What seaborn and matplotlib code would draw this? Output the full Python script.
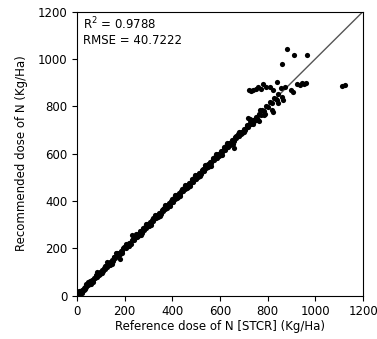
import numpy as np
import pandas as pd
import matplotlib
matplotlib.use("Agg")
import matplotlib.pyplot as plt
import seaborn as sns

# points close to the 1:1 line (reference dose, recommended dose)
x_main = [3, 6, 9, 12, 15, 18, 21, 25, 28, 32,
          35, 39, 42, 46, 50, 53, 57, 61, 64, 68,
          72, 76, 80, 84, 88, 92, 96, 100, 104, 108,
          112, 117, 121, 125, 130, 134, 139, 143, 148, 152,
          157, 161, 165, 170, 175, 179, 182, 186, 190, 195,
          200, 204, 209, 214, 219, 224, 229, 232, 236, 241,
          246, 251, 256, 261, 266, 271, 276, 281, 286, 291,
          296, 301, 306, 311, 316, 321, 326, 331, 336, 341,
          346, 351, 356, 361, 366, 371, 376, 381, 386, 391,
          396, 402, 407, 412, 417, 423, 428, 433, 438, 444,
          449, 454, 460, 465, 470, 476, 481, 487, 492, 498,
          503, 509, 514, 520, 525, 531, 536, 542, 548, 553,
          559, 564, 570, 576, 581, 587, 593, 598, 604, 610,
          615, 621, 627, 633, 639, 645, 651, 657, 663, 669,
          675, 681, 687, 693, 699, 705, 712, 718, 724, 731,
          737, 744, 750, 757, 763, 770, 778, 785, 793, 801,
          810, 818, 827, 836, 845]
y_main = [5, 4, 12, 10, 17, 16, 24, 22, 31, 30,
          38, 36, 45, 43, 53, 50, 60, 58, 68, 65,
          75, 73, 84, 80, 91, 89, 100, 97, 108, 104,
          116, 113, 125, 121, 134, 130, 144, 139, 152, 148,
          161, 157, 180, 167, 180, 174, 155, 190, 187, 199,
          204, 200, 213, 210, 223, 219, 233, 258, 240, 237,
          250, 247, 260, 256, 271, 266, 281, 277, 291, 286,
          301, 296, 311, 307, 321, 316, 331, 326, 341, 337,
          351, 346, 361, 357, 372, 366, 381, 377, 391, 386,
          401, 397, 412, 408, 423, 418, 434, 428, 443, 440,
          454, 449, 466, 460, 476, 471, 487, 482, 497, 494,
          508, 504, 520, 515, 531, 526, 542, 537, 554, 548,
          565, 559, 576, 571, 587, 582, 599, 593, 610, 605,
          621, 616, 633, 628, 645, 640, 657, 652, 669, 664,
          681, 676, 693, 688, 705, 700, 718, 713, 730, 726,
          743, 739, 756, 752, 769, 765, 784, 780, 799, 796,
          816, 813, 833, 831, 851]

# second layer, a bit further from the line
x_band = [10, 30, 48, 66, 86, 106, 127, 146, 168, 188, 207, 227, 249, 268, 289, 309, 329, 349,
          369, 389, 410, 431, 452, 473, 495, 517, 539, 561, 584, 607, 630, 654, 678, 702, 727, 752]
y_band = [18, 22, 58, 57, 98, 96, 140, 135, 178, 178, 220, 216, 262, 258, 302, 297, 342, 338,
          382, 378, 424, 420, 466, 462, 509, 506, 553, 549, 598, 595, 644, 642, 692, 690, 741, 740]

# third layer, filling gaps on the other side
x_fill = [20, 40, 58, 78, 97, 116, 137, 157, 178, 198, 218, 238, 258, 279, 299, 319, 339, 359,
          379, 399, 420, 441, 463, 484, 506, 528, 550, 572, 595, 618, 642, 666, 690, 714, 740]
y_fill = [13, 47, 51, 86, 90, 124, 130, 165, 171, 206, 211, 246, 251, 287, 292, 327, 332, 367,
          372, 408, 413, 449, 456, 492, 499, 536, 543, 580, 588, 626, 635, 674, 683, 722, 733]

# scatter around 650-870
x_spread = [716, 726, 740, 761, 765, 768, 786, 789, 817, 821, 838, 842, 859, 863, 660]
y_spread = [750, 748, 727, 741, 736, 783, 763, 769, 783, 777, 825, 812, 839, 826, 625]

# flat group near 870-900
x_flat = [723, 732, 740, 752, 761, 772, 782, 795, 810, 821, 838, 856, 873, 897, 905, 922, 935, 943, 953, 961]
y_flat = [870, 866, 867, 874, 881, 872, 895, 880, 881, 870, 902, 878, 881, 867, 861, 895, 890, 898, 893, 896]

# outliers
x_out = [880, 912, 966, 861, 1110, 1125]
y_out = [1043, 1015, 1015, 980, 885, 890]

r2 = 0.9788
rmse = 40.7222

df = pd.DataFrame({
    "ref": x_main + x_band + x_fill + x_spread + x_flat + x_out,
    "rec": y_main + y_band + y_fill + y_spread + y_flat + y_out,
})

plt.rcParams["font.size"] = 8.5
fig = plt.figure(figsize=(3.77, 3.39), dpi=100)
ax = fig.add_axes([0.204, 0.128, 0.759, 0.838])

ax.plot([0, 1200], [0, 1200], color="#555555", lw=1, zorder=1)
sns.scatterplot(data=df, x="ref", y="rec", ax=ax, color="black", s=14, linewidth=0, zorder=2)

ax.set_xlim(0, 1200)
ax.set_ylim(0, 1200)
ax.set_xticks(range(0, 1201, 200))
ax.set_yticks(range(0, 1201, 200))
ax.tick_params(length=3.5)
ax.set_xlabel("Reference dose of N [STCR] (Kg/Ha)", labelpad=1)
ax.set_ylabel("Recommended dose of N (Kg/Ha)", labelpad=7)

ax.text(0.02, 0.985, "R$^2$ = %.4f\nRMSE = %.4f" % (r2, rmse),
        transform=ax.transAxes, va="top", ha="left")

fig.savefig("out.png", dpi=100)
